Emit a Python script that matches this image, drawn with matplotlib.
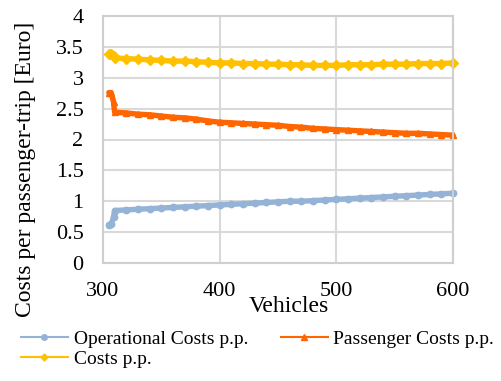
import matplotlib
matplotlib.use("Agg")
import matplotlib.pyplot as plt
from matplotlib.lines import Line2D

plt.rcParams['font.family'] = ['Liberation Serif', 'DejaVu Serif']

# Fleet size (number of vehicles)
vehicles = [305, 307, 309,
            310, 320, 330, 340, 350, 360, 370, 380, 390, 400,
            410, 420, 430, 440, 450, 460, 470, 480, 490, 500,
            510, 520, 530, 540, 550, 560, 570, 580, 590, 600]

# Costs per passenger-trip [Euro]
operational_costs = [0.62, 0.63, 0.74,
                     0.85, 0.86, 0.87, 0.88, 0.89, 0.90, 0.91, 0.92, 0.93, 0.94,
                     0.95, 0.96, 0.97, 0.98, 0.99, 1.00, 1.00, 1.01, 1.02, 1.03,
                     1.04, 1.05, 1.06, 1.07, 1.08, 1.09, 1.10, 1.11, 1.12, 1.13]
passenger_costs = [2.76, 2.76, 2.61,
                   2.44, 2.43, 2.41, 2.40, 2.38, 2.36, 2.35, 2.33, 2.30, 2.28,
                   2.27, 2.26, 2.25, 2.24, 2.23, 2.21, 2.20, 2.18, 2.17, 2.16,
                   2.15, 2.14, 2.13, 2.12, 2.11, 2.10, 2.10, 2.09, 2.08, 2.07]
total_costs = [3.38, 3.39, 3.35,
               3.32, 3.31, 3.30, 3.29, 3.28, 3.27, 3.27, 3.26, 3.25, 3.24,
               3.24, 3.23, 3.23, 3.22, 3.22, 3.21, 3.21, 3.20, 3.20, 3.20,
               3.21, 3.21, 3.21, 3.22, 3.22, 3.22, 3.23, 3.23, 3.23, 3.24]

series_labels = ["Operational Costs p.p.", "Passenger Costs p.p.", "Costs p.p."]
x_ticks = [300, 400, 500, 600]
y_ticks = [0, 0.5, 1, 1.5, 2, 2.5, 3, 3.5, 4]
y_tick_labels = ["0", "0.5", "1", "1.5", "2", "2.5", "3", "3.5", "4"]

c_op = "#95B3D7"
c_pass = "#FF6600"
c_tot = "#FFC000"
grid_c = "#D9D9D9"

fig = plt.figure(figsize=(5.01, 3.81), dpi=100)
ax = fig.add_axes([103 / 501, 1 - 263 / 381, 350 / 501, 247 / 381])

style = dict(lw=3.9, markersize=4.6, solid_capstyle='round',
             solid_joinstyle='round', clip_on=False)
ax.plot(vehicles, operational_costs, color=c_op, marker='o', **style)
ax.plot(vehicles, passenger_costs, color=c_pass, marker='^', **style)
ax.plot(vehicles, total_costs, color=c_tot, marker='D', **style)

ax.set_xlim(300, 600)
ax.set_ylim(0, 4)
ax.set_xticks(x_ticks)
ax.set_yticks(y_ticks)
ax.set_yticklabels(y_tick_labels)
ax.tick_params(axis='both', length=0, labelsize=16, pad=14)
ax.grid(True, color=grid_c, lw=1.5)
ax.set_axisbelow(True)
for s in ax.spines.values():
    s.set_color("#CFCFCF")
    s.set_linewidth(1.5)

ax.set_xlabel("Vehicles", fontsize=17)
ax.xaxis.set_label_coords(0.53, -0.135)
ax.set_ylabel("Costs per passenger-trip [Euro]", fontsize=17)
ax.yaxis.set_label_coords(-0.19, 0.38)

h_op = Line2D([], [], color=c_op, marker='o', lw=1.5, markersize=4)
h_pass = Line2D([], [], color=c_pass, marker='^', lw=1.5, markersize=4)
h_tot = Line2D([], [], color=c_tot, marker='D', lw=1.5, markersize=3.5)
# legend fills column by column: first column holds entries 1 and 3
fig.legend([h_op, h_tot, h_pass],
           [series_labels[0], series_labels[2], series_labels[1]],
           loc='upper left', bbox_to_anchor=(21 / 501, 1 - 330 / 381),
           ncol=2, frameon=False, fontsize=14, handlelength=2.4,
           handletextpad=0.3, columnspacing=1.7, labelspacing=0.15,
           borderpad=0, borderaxespad=0)

fig.savefig("out.png", dpi=100)
